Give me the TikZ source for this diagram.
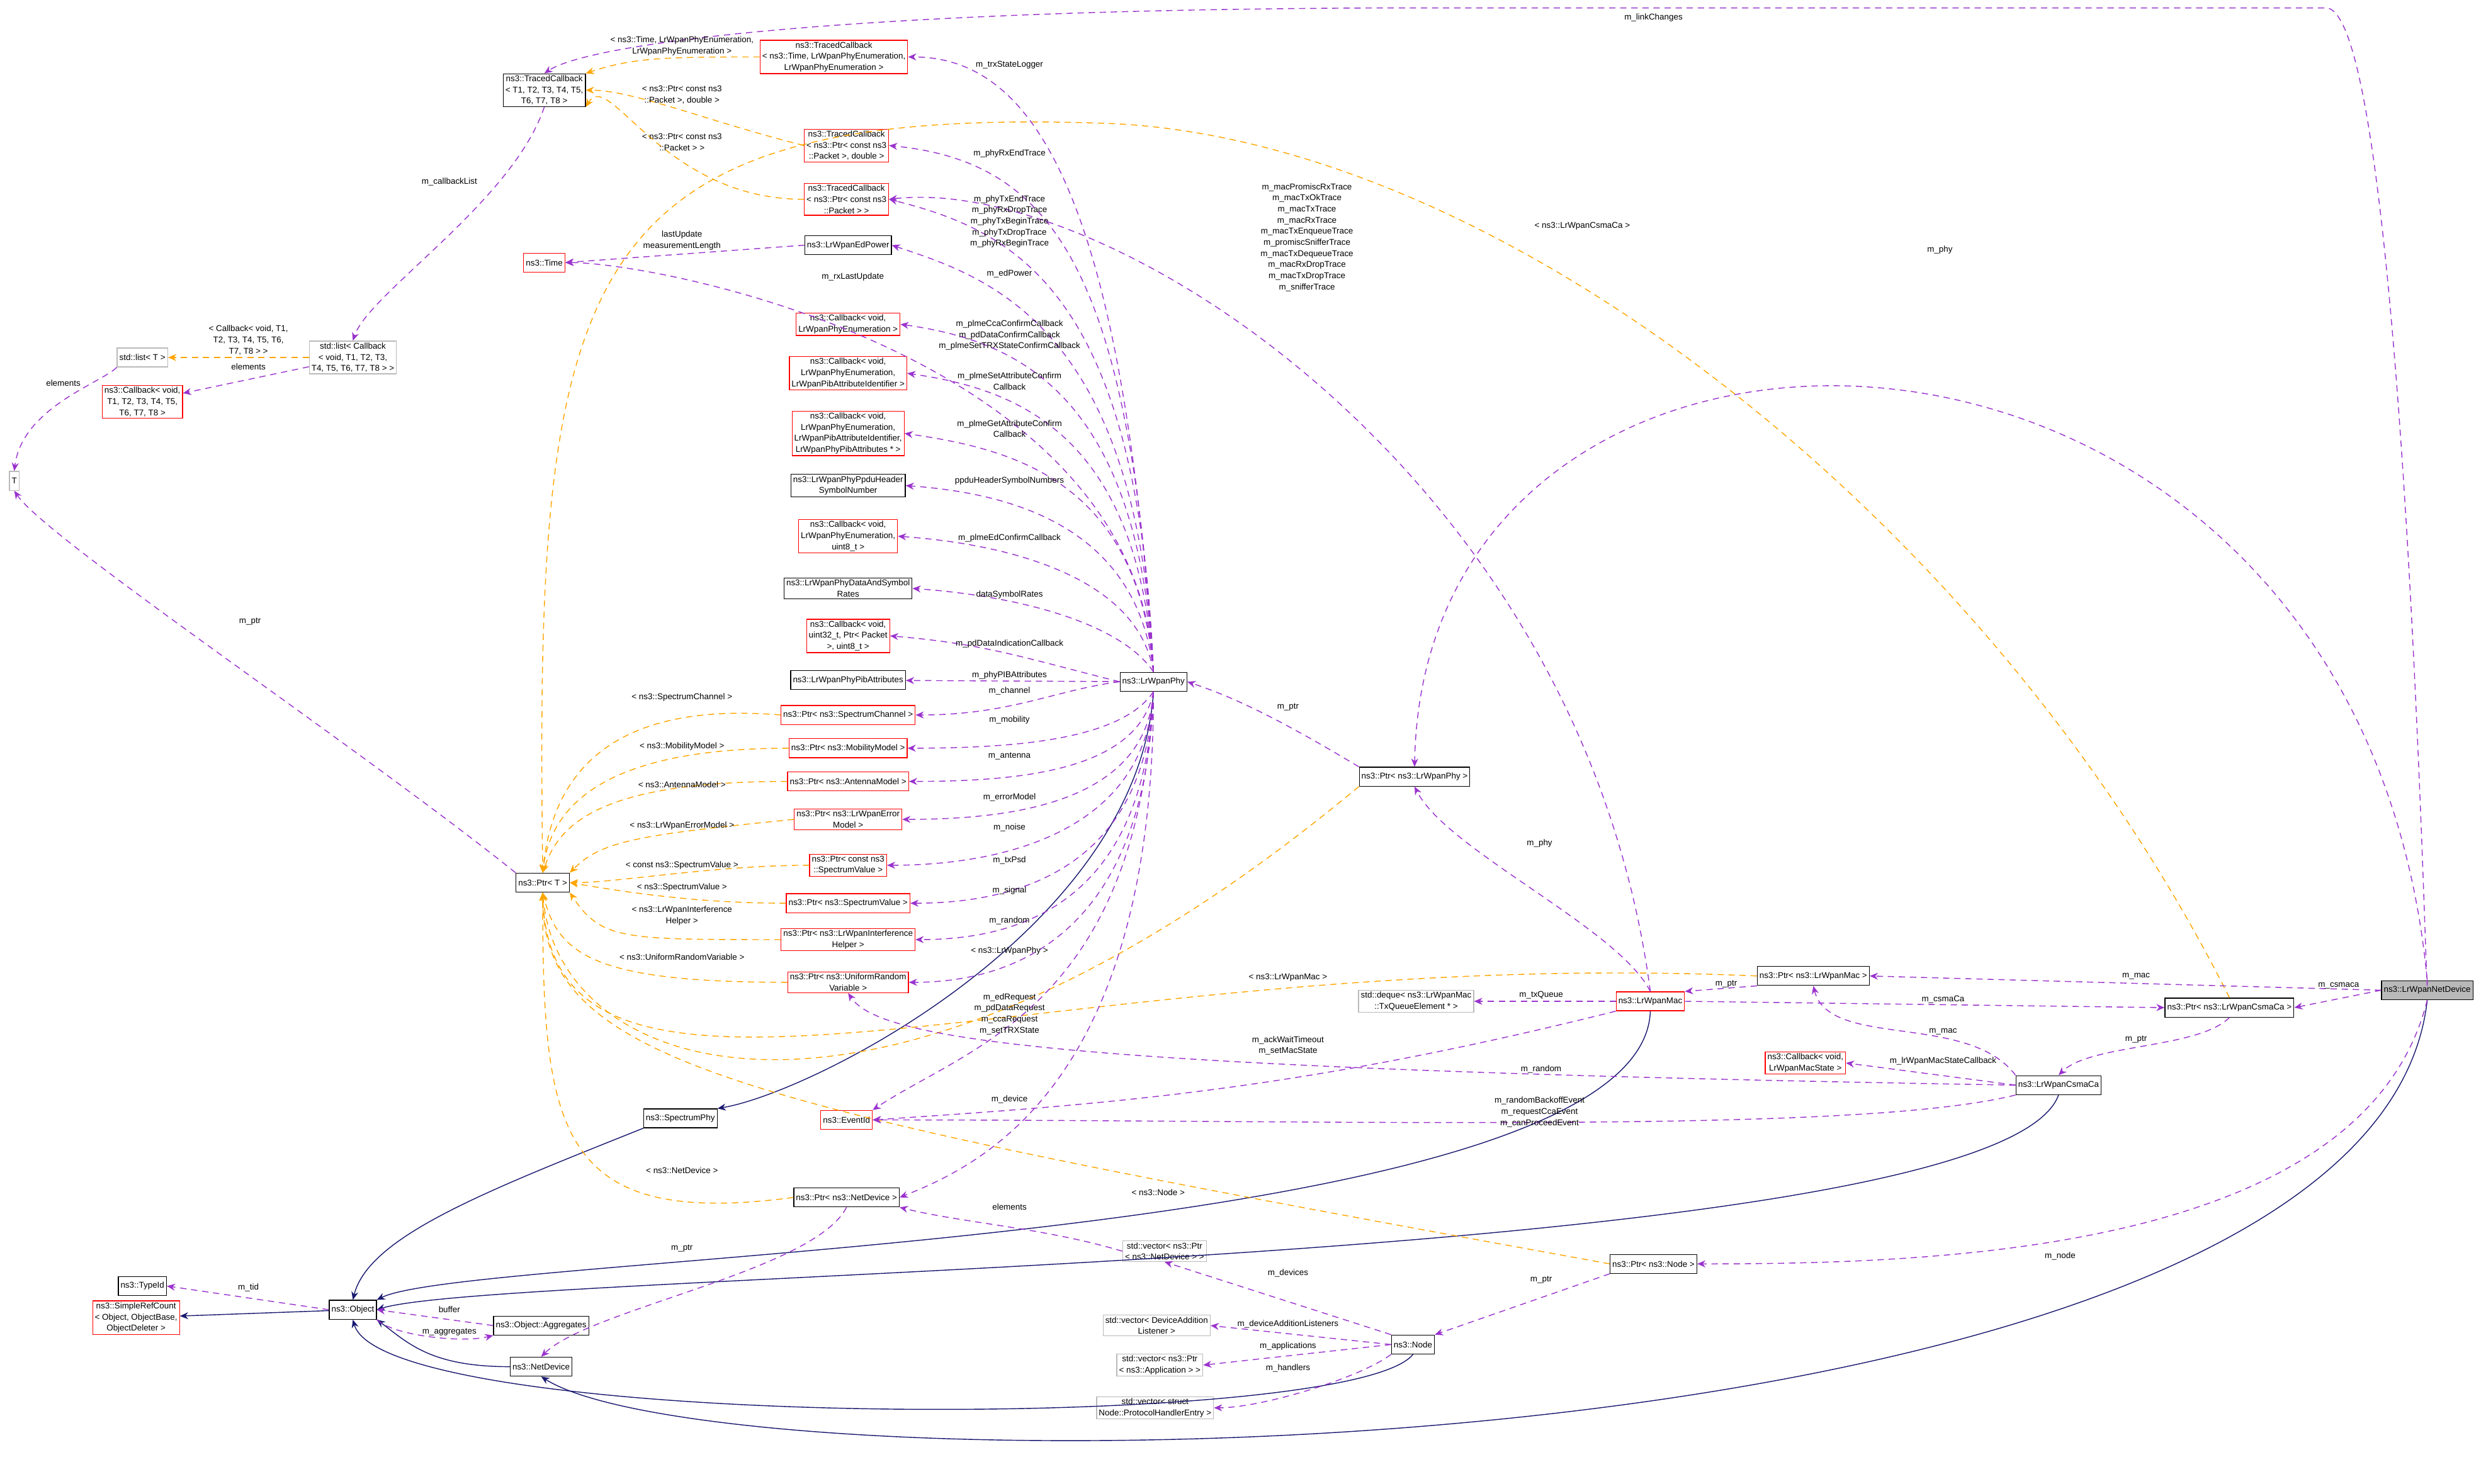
\documentclass[tikz,border=0pt]{standalone}
\usepackage{fontspec}
\setmainfont{Liberation Sans}
\usetikzlibrary{arrows.meta, positioning}

\definecolor{memclr}{RGB}{154,50,205}
\definecolor{instclr}{RGB}{255,165,0}
\definecolor{inhclr}{RGB}{25,25,112}

\begin{document}
\begin{tikzpicture}[
        x=0.05cm, y=0.05cm,
        cls/.style={rectangle, draw=black, fill=white, line width=0.7pt, inner xsep=2pt, inner ysep=1.5pt, minimum height=0.6cm, align=center, font=\fontsize{7.6}{10}\selectfont},
        redcls/.style={cls, draw=red},
        graycls/.style={cls, draw=gray!55},
        curcls/.style={cls, fill=gray!55},
        lbl/.style={inner sep=0pt, align=center, font=\fontsize{7.6}{10}\selectfont},
        mem/.style={-{Stealth[length=2.6mm,width=2.2mm]}, draw=memclr, dashed, line width=0.8pt, dash pattern=on 2mm off 1.5mm},
        inst/.style={-{Stealth[length=2.6mm,width=2.2mm]}, draw=instclr, dashed, line width=0.8pt, dash pattern=on 2mm off 1.5mm},
        inh/.style={-{Stealth[length=2.6mm,width=2.2mm]}, draw=inhclr, line width=0.8pt}
    ]
        \useasboundingbox (0,0) rectangle (1568,-938);

        % TEMPLATES AND CALLBACKS
        \node[cls] (tc) at (344,-57) {ns3::TracedCallback\\< T1, T2, T3, T4, T5,\\T6, T7, T8 >};
        \node[redcls] (tcTime) at (527,-36) {ns3::TracedCallback\\< ns3::Time, LrWpanPhyEnumeration,\\LrWpanPhyEnumeration >};
        \node[redcls] (tcPktD) at (535,-92) {ns3::TracedCallback\\< ns3::Ptr< const ns3\\::Packet >, double >};
        \node[redcls] (tcPkt) at (535,-126) {ns3::TracedCallback\\< ns3::Ptr< const ns3\\::Packet > >};
        \node[redcls] (time) at (344,-166) {ns3::Time};
        \node[cls] (edp) at (536,-155) {ns3::LrWpanEdPower};
        \node[graycls] (lst) at (90,-226) {std::list< T >};
        \node[redcls] (cbT) at (90,-254) {ns3::Callback< void,\\T1, T2, T3, T4, T5,\\T6, T7, T8 >};
        \node[graycls] (lcb) at (223,-226) {std::list< Callback\\< void, T1, T2, T3,\\T4, T5, T6, T7, T8 > >};
        \node[graycls] (T) at (9,-304) {T};

        % PHY MEMBERS
        \node[redcls] (cbEnum) at (536,-205) {ns3::Callback< void,\\LrWpanPhyEnumeration >};
        \node[redcls] (cbAttrId) at (536,-236) {ns3::Callback< void,\\LrWpanPhyEnumeration,\\LrWpanPibAttributeIdentifier >};
        \node[redcls] (cbAttrs) at (536,-274) {ns3::Callback< void,\\LrWpanPhyEnumeration,\\LrWpanPibAttributeIdentifier,\\LrWpanPhyPibAttributes * >};
        \node[cls] (ppdu) at (536,-307) {ns3::LrWpanPhyPpduHeader\\SymbolNumber};
        \node[redcls] (cbEd) at (536,-339) {ns3::Callback< void,\\LrWpanPhyEnumeration,\\uint8\_t >};
        \node[cls] (rates) at (536,-372) {ns3::LrWpanPhyDataAndSymbol\\Rates};
        \node[redcls] (cbPd) at (536,-402) {ns3::Callback< void,\\uint32\_t, Ptr< Packet\\>, uint8\_t >};
        \node[cls] (pib) at (536,-430) {ns3::LrWpanPhyPibAttributes};
        \node[redcls] (pchan) at (536,-452) {ns3::Ptr< ns3::SpectrumChannel >};
        \node[redcls] (pmob) at (536,-473) {ns3::Ptr< ns3::MobilityModel >};
        \node[redcls] (pant) at (536,-494) {ns3::Ptr< ns3::AntennaModel >};
        \node[redcls] (perr) at (536,-518) {ns3::Ptr< ns3::LrWpanError\\Model >};
        \node[redcls] (ppsd) at (536,-547) {ns3::Ptr< const ns3\\::SpectrumValue >};
        \node[redcls] (psig) at (536,-571) {ns3::Ptr< ns3::SpectrumValue >};
        \node[redcls] (pint) at (536,-594) {ns3::Ptr< ns3::LrWpanInterference\\Helper >};
        \node[redcls] (prand) at (536,-621) {ns3::Ptr< ns3::UniformRandom\\Variable >};
        \node[redcls] (evt) at (535,-708) {ns3::EventId};
        \node[cls] (pnd) at (535,-757) {ns3::Ptr< ns3::NetDevice >};
        \node[cls] (phy) at (729,-431) {ns3::LrWpanPhy};
        \node[cls] (ptrT) at (343,-558) {ns3::Ptr< T >};

        % BASE CLASSES
        \node[cls] (sphy) at (430,-707) {ns3::SpectrumPhy};
        \node[cls] (obj) at (223,-828) {ns3::Object};
        \node[cls] (tid) at (90,-813) {ns3::TypeId};
        \node[redcls] (src) at (86,-833) {ns3::SimpleRefCount\\< Object, ObjectBase,\\ObjectDeleter >};
        \node[cls] (agg) at (342,-838) {ns3::Object::Aggregates};
        \node[cls] (netdev) at (342,-864) {ns3::NetDevice};

        % MAC, CSMA AND NODE
        \node[cls] (pphy) at (894,-491) {ns3::Ptr< ns3::LrWpanPhy >};
        \node[cls] (pmac) at (1146,-617) {ns3::Ptr< ns3::LrWpanMac >};
        \node[redcls] (mac) at (1043,-633) {ns3::LrWpanMac};
        \node[graycls] (deque) at (895,-633) {std::deque< ns3::LrWpanMac\\::TxQueueElement * >};
        \node[cls] (pcsma) at (1409,-637) {ns3::Ptr< ns3::LrWpanCsmaCa >};
        \node[curcls] (nd) at (1534,-626) {ns3::LrWpanNetDevice};
        \node[redcls] (cbms) at (1141,-672) {ns3::Callback< void,\\LrWpanMacState >};
        \node[cls] (csma) at (1301,-686) {ns3::LrWpanCsmaCa};
        \node[cls] (pnode) at (1045,-799) {ns3::Ptr< ns3::Node >};
        \node[graycls] (vecnd) at (736,-791) {std::vector< ns3::Ptr\\< ns3::NetDevice > >};
        \node[cls] (node) at (893,-850) {ns3::Node};
        \node[graycls] (vecda) at (731,-838) {std::vector< DeviceAddition\\Listener >};
        \node[graycls] (vecapp) at (733,-863) {std::vector< ns3::Ptr\\< ns3::Application > >};
        \node[graycls] (vech) at (730,-890) {std::vector< struct\\Node::ProtocolHandlerEntry >};

        % INHERITANCE
        \draw[inh] (phy.south) .. controls +(-10,-150) and +(60,10) .. (sphy.north east);
        \draw[inh] (sphy.south west) .. controls +(-100,-40) and +(10,40) .. (obj.north);
        \draw[inh] (mac.south) .. controls +(-5,-150) and +(60,30) .. (obj.north east);
        \draw[inh] (csma.south) .. controls +(-40,-110) and +(80,25) .. (obj.east);
        \draw[inh] (node.south) .. controls +(-40,-50) and +(20,-70) .. (obj.south);
        \draw[inh] (netdev.west) .. controls +(-50,0) and +(20,-15) .. (obj.south east);
        \draw[inh] (obj) -- (src);
        \draw[inh] (nd.south) .. controls (1500,-940) and (460,-945) .. (netdev.south);

        % TEMPLATE INSTANCES
        \draw[inst] (tcTime.west) .. controls +(-60,0) and +(30,10) .. (tc.north east);
        \draw[inst] (tcPktD.west) .. controls +(-60,15) and +(30,0) .. (tc.east);
        \draw[inst] (tcPkt.west) .. controls +(-90,0) and +(15,25) .. (tc.south east);
        \draw[inst] (lcb) -- (lst);
        \draw[inst] (pchan.west) .. controls +(-120,10) and +(5,50) .. (ptrT.north);
        \draw[inst] (pmob.west) .. controls +(-120,0) and +(5,40) .. (ptrT.north);
        \draw[inst] (pant.west) .. controls +(-120,0) and +(10,30) .. (ptrT.north);
        \draw[inst] (perr.west) .. controls +(-100,-10) and +(20,20) .. (ptrT.north east);
        \draw[inst] (ppsd.west) .. controls +(-60,0) and +(30,0) .. (ptrT.east);
        \draw[inst] (psig.west) .. controls +(-60,0) and +(30,-5) .. (ptrT.east);
        \draw[inst] (pint.west) .. controls +(-100,0) and +(20,-30) .. (ptrT.south east);
        \draw[inst] (prand.west) .. controls +(-120,0) and +(10,-40) .. (ptrT.south);
        \draw[inst] (pphy.south west) .. controls +(-300,-250) and +(10,-120) .. (ptrT.south);
        \draw[inst] (pmac.west) .. controls +(-450,20) and +(5,-180) .. (ptrT.south);
        \draw[inst] (pnd.west) .. controls +(-150,-20) and +(0,-150) .. (ptrT.south);
        \draw[inst] (pnode.west) .. controls +(-550,100) and +(0,-110) .. (ptrT.south);
        \coordinate (csmaBend) at (700,-78);
        \draw[inst] (pcsma.north) .. controls +(-150,300) and +(250,-10) .. (csmaBend) .. controls +(-340,12) and +(-5,380) .. (ptrT.north);

        % MEMBERS
        \coordinate (linkR) at (1470,-5);
        \coordinate (linkL) at (900,-5);
        \draw[mem] (nd.north) .. controls +(0,-50) and +(50,0) .. (linkR) .. controls +(-200,0) and +(200,0) .. (linkL) .. controls +(-350,0) and +(30,20) .. (tc.north);
        \draw[mem] (tc.south) .. controls +(-20,-60) and +(10,30) .. (lcb.north);
        \draw[mem] (lcb) -- (cbT);
        \draw[mem] (lst.south west) .. controls +(-10,-10) and +(5,40) .. (T.north);
        \draw[mem] (ptrT.north west) .. controls +(-100,80) and +(20,-30) .. (T.south);
        \draw[mem] (phy.north) .. controls +(-20,300) and +(80,0) .. (tcTime.east);
        \draw[mem] (phy.north) .. controls +(-15,260) and +(100,-10) .. (tcPktD.east);
        \draw[mem] (phy.north) .. controls +(-10,240) and +(80,-20) .. (tcPkt.east);
        \draw[mem] (phy.north) .. controls +(-10,220) and +(60,-20) .. (edp.east);
        \draw[mem] (edp.west) -- (time.east);
        \draw[mem] (phy.north) .. controls +(-10,200) and +(60,0) .. (time.east);
        \draw[mem] (phy.north) .. controls +(-10,180) and +(70,-10) .. (cbEnum.east);
        \draw[mem] (phy.north) .. controls +(-10,150) and +(70,-10) .. (cbAttrId.east);
        \draw[mem] (phy.north) .. controls +(-10,120) and +(70,-10) .. (cbAttrs.east);
        \draw[mem] (phy.north) .. controls +(-10,90) and +(70,-5) .. (ppdu.east);
        \draw[mem] (phy.north) .. controls +(-10,60) and +(70,-5) .. (cbEd.east);
        \draw[mem] (phy.north) .. controls +(-20,30) and +(70,-5) .. (rates.east);
        \draw[mem] (phy.west) .. controls +(-60,15) and +(60,-5) .. (cbPd.east);
        \draw[mem] (phy) -- (pib);
        \draw[mem] (phy.west) .. controls +(-40,-5) and +(60,0) .. (pchan.east);
        \draw[mem] (phy.south) .. controls +(-20,-30) and +(70,0) .. (pmob.east);
        \draw[mem] (phy.south) .. controls +(-10,-50) and +(70,0) .. (pant.east);
        \draw[mem] (phy.south) .. controls +(-5,-70) and +(70,0) .. (perr.east);
        \draw[mem] (phy.south) .. controls +(-5,-90) and +(70,0) .. (ppsd.east);
        \draw[mem] (phy.south) .. controls +(-5,-110) and +(70,0) .. (psig.east);
        \draw[mem] (phy.south) .. controls +(-5,-130) and +(70,0) .. (pint.east);
        \draw[mem] (phy.south) .. controls +(-5,-150) and +(70,0) .. (prand.east);
        \draw[mem] (phy.south) .. controls +(-10,-200) and +(60,40) .. (evt.north east);
        \draw[mem] (phy.south) .. controls +(0,-250) and +(50,20) .. (pnd.east);
        \draw[mem] (pphy.north west) .. controls +(-50,30) and +(30,-10) .. (phy.east);
        \draw[mem] (nd.north) .. controls (1490,-150) and (900,-140) .. (pphy.north);
        \draw[mem] (mac.north) .. controls (1000,-300) and (700,-110) .. (tcPkt.east);
        \draw[mem] (mac.north) .. controls +(-20,40) and +(20,-40) .. (pphy.south);
        \draw[mem] (nd.west) -- (pmac.east);
        \draw[mem] (nd.west) -- (pcsma.east);
        \draw[mem] (pmac.south west) -- (mac.north east);
        \draw[mem] (mac.west) -- (deque.east);
        \draw[mem] (mac.east) -- (pcsma.west);
        \draw[mem] (pcsma.south) .. controls +(-20,-20) and +(20,20) .. (csma.north);
        \draw[mem] (csma.north west) .. controls +(-30,40) and +(10,-40) .. (pmac.south);
        \draw[mem] (csma.west) -- (cbms.east);
        \draw[mem] (csma.west) .. controls +(-600,10) and +(20,-30) .. (prand.south);
        \draw[mem] (mac.south west) .. controls +(-200,-50) and +(150,10) .. (evt.east);
        \draw[mem] (csma.south west) .. controls +(-100,-25) and +(300,0) .. (evt.east);
        \draw[mem] (nd.south) .. controls +(-40,-160) and +(150,0) .. (pnode.east);
        \draw[mem] (pnode.south west) -- (node.north east);
        \draw[mem] (node.north west) -- (vecnd.south);
        \draw[mem] (vecnd.west) .. controls +(-50,15) and +(40,-10) .. (pnd.south east);
        \draw[mem] (node.west) -- (vecda.east);
        \draw[mem] (node.west) -- (vecapp.east);
        \draw[mem] (node.south west) .. controls +(-20,-15) and +(30,0) .. (vech.east);
        \draw[mem] (pnd.south) .. controls +(-20,-40) and +(30,30) .. (netdev.north);
        \draw[mem] (obj.west) -- (tid.east);
        \draw[mem] (agg.west) -- (obj.east);
        \draw[mem] (obj.south east) .. controls +(10,-10) and +(-20,-5) .. (agg.south west);

        % LABELS
        \node[lbl] (l01) at (1045,-11) {m\_linkChanges};
        \node[lbl] (l02) at (431,-29) {< ns3::Time, LrWpanPhyEnumeration,\\LrWpanPhyEnumeration >};
        \node[lbl] (l03) at (638,-41) {m\_trxStateLogger};
        \node[lbl] (l04) at (431,-60) {< ns3::Ptr< const ns3\\::Packet >, double >};
        \node[lbl] (l05) at (431,-90) {< ns3::Ptr< const ns3\\::Packet > >};
        \node[lbl] (l06) at (638,-97) {m\_phyRxEndTrace};
        \node[lbl] (l07) at (638,-140) {m\_phyTxEndTrace\\m\_phyRxDropTrace\\m\_phyTxBeginTrace\\m\_phyTxDropTrace\\m\_phyRxBeginTrace};
        \node[lbl] (l08) at (284,-115) {m\_callbackList};
        \node[lbl] (l09) at (431,-152) {lastUpdate\\measurementLength};
        \node[lbl] (l10) at (638,-173) {m\_edPower};
        \node[lbl] (l11) at (539,-175) {m\_rxLastUpdate};
        \node[lbl] (l12) at (638,-212) {m\_plmeCcaConfirmCallback\\m\_pdDataConfirmCallback\\m\_plmeSetTRXStateConfirmCallback};
        \node[lbl] (l13) at (638,-241) {m\_plmeSetAttributeConfirm\\Callback};
        \node[lbl] (l14) at (638,-271) {m\_plmeGetAttributeConfirm\\Callback};
        \node[lbl] (l15) at (638,-304) {ppduHeaderSymbolNumbers};
        \node[lbl] (l16) at (638,-340) {m\_plmeEdConfirmCallback};
        \node[lbl] (l17) at (638,-376) {dataSymbolRates};
        \node[lbl] (l18) at (638,-407) {m\_pdDataIndicationCallback};
        \node[lbl] (l19) at (638,-427) {m\_phyPIBAttributes};
        \node[lbl] (l20) at (638,-437) {m\_channel};
        \node[lbl] (l21) at (638,-455) {m\_mobility};
        \node[lbl] (l22) at (638,-478) {m\_antenna};
        \node[lbl] (l23) at (638,-504) {m\_errorModel};
        \node[lbl] (l24) at (638,-523) {m\_noise};
        \node[lbl] (l25) at (638,-544) {m\_txPsd};
        \node[lbl] (l26) at (638,-563) {m\_signal};
        \node[lbl] (l27) at (638,-582) {m\_random};
        \node[lbl] (l28) at (638,-601) {< ns3::LrWpanPhy >};
        \node[lbl] (l29) at (638,-641) {m\_edRequest\\m\_pdDataRequest\\m\_ccaRequest\\m\_setTRXState};
        \node[lbl] (l30) at (638,-695) {m\_device};
        \node[lbl] (l31) at (638,-763) {elements};
        \node[lbl] (l32) at (157,-215) {< Callback< void, T1,\\T2, T3, T4, T5, T6,\\T7, T8 > >};
        \node[lbl] (l33) at (157,-232) {elements};
        \node[lbl] (l34) at (40,-242) {elements};
        \node[lbl] (l35) at (158,-393) {m\_ptr};
        \node[lbl] (l36) at (431,-441) {< ns3::SpectrumChannel >};
        \node[lbl] (l37) at (431,-472) {< ns3::MobilityModel >};
        \node[lbl] (l38) at (431,-496) {< ns3::AntennaModel >};
        \node[lbl] (l39) at (431,-522) {< ns3::LrWpanErrorModel >};
        \node[lbl] (l40) at (431,-547) {< const ns3::SpectrumValue >};
        \node[lbl] (l41) at (431,-561) {< ns3::SpectrumValue >};
        \node[lbl] (l42) at (431,-579) {< ns3::LrWpanInterference\\Helper >};
        \node[lbl] (l43) at (431,-605) {< ns3::UniformRandomVariable >};
        \node[lbl] (l44) at (431,-740) {< ns3::NetDevice >};
        \node[lbl] (l45) at (431,-789) {m\_ptr};
        \node[lbl] (l46) at (157,-814) {m\_tid};
        \node[lbl] (l47) at (284,-828) {buffer};
        \node[lbl] (l48) at (284,-842) {m\_aggregates};
        \node[lbl] (l49) at (826,-150) {m\_macPromiscRxTrace\\m\_macTxOkTrace\\m\_macTxTrace\\m\_macRxTrace\\m\_macTxEnqueueTrace\\m\_promiscSnifferTrace\\m\_macTxDequeueTrace\\m\_macRxDropTrace\\m\_macTxDropTrace\\m\_snifferTrace};
        \node[lbl] (l50) at (1000,-143) {< ns3::LrWpanCsmaCa >};
        \node[lbl] (l51) at (1226,-158) {m\_phy};
        \node[lbl] (l52) at (814,-447) {m\_ptr};
        \node[lbl] (l53) at (973,-533) {m\_phy};
        \node[lbl] (l54) at (814,-618) {< ns3::LrWpanMac >};
        \node[lbl] (l55) at (1091,-622) {m\_ptr};
        \node[lbl] (l56) at (974,-629) {m\_txQueue};
        \node[lbl] (l57) at (1350,-617) {m\_mac};
        \node[lbl] (l58) at (1478,-623) {m\_csmaca};
        \node[lbl] (l59) at (1228,-632) {m\_csmaCa};
        \node[lbl] (l60) at (1228,-652) {m\_mac};
        \node[lbl] (l61) at (1350,-657) {m\_ptr};
        \node[lbl] (l62) at (814,-661) {m\_ackWaitTimeout\\m\_setMacState};
        \node[lbl] (l63) at (974,-676) {m\_random};
        \node[lbl] (l64) at (1228,-671) {m\_lrWpanMacStateCallback};
        \node[lbl] (l65) at (973,-703) {m\_randomBackoffEvent\\m\_requestCcaEvent\\m\_canProceedEvent};
        \node[lbl] (l66) at (732,-754) {< ns3::Node >};
        \node[lbl] (l67) at (814,-805) {m\_devices};
        \node[lbl] (l68) at (1302,-794) {m\_node};
        \node[lbl] (l69) at (974,-809) {m\_ptr};
        \node[lbl] (l70) at (814,-837) {m\_deviceAdditionListeners};
        \node[lbl] (l71) at (814,-851) {m\_applications};
        \node[lbl] (l72) at (814,-865) {m\_handlers};
    \end{tikzpicture}
\end{document}
